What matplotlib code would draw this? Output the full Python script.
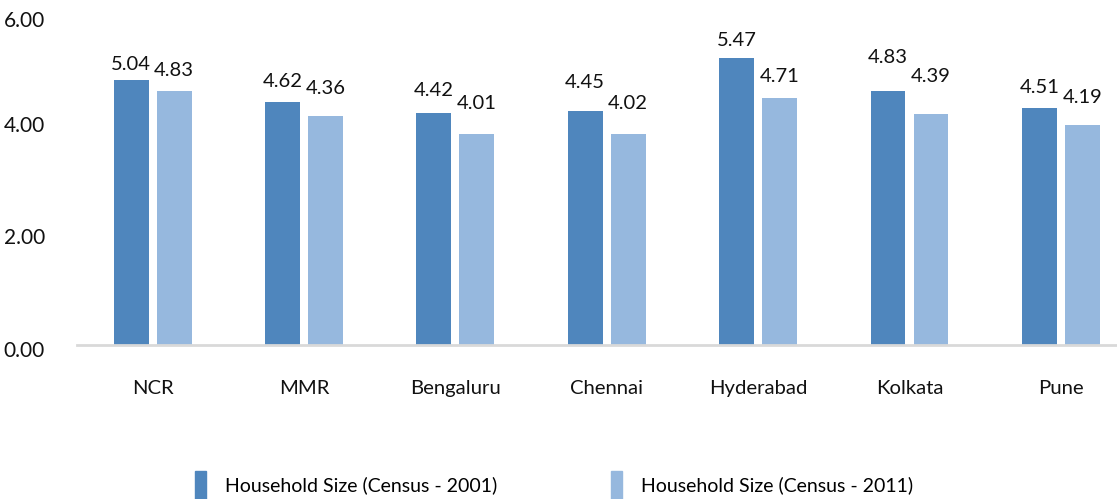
import numpy as np
import matplotlib.pyplot as plt
import matplotlib.transforms as mtransforms
from matplotlib.patches import Patch

cities = ['NCR', 'MMR', 'Bengaluru', 'Chennai', 'Hyderabad', 'Kolkata', 'Pune']
size_2001 = [5.04, 4.62, 4.42, 4.45, 5.47, 4.83, 4.51]
size_2011 = [4.83, 4.36, 4.01, 4.02, 4.71, 4.39, 4.19]
series_names = ['Household Size (Census - 2001)', 'Household Size (Census - 2011)']
y_ticks = [0, 2, 4, 6]

# label lift above bar top (points), as placed in the source chart
lift_2001 = [11, 15, 16, 21, 12, 24, 15]
lift_2011 = [15, 20, 22, 22, 15, 27, 20]
# the source's y labels sit a little off their gridline
tick_shift = [-3, 3, 8, 8]

dark = '#4F86BD'
light = '#96B8DE'

plt.rcParams['font.family'] = ['Lato', 'DejaVu Sans']

fig = plt.figure(figsize=(11.17, 4.99), dpi=100)
ax = fig.add_axes([77 / 1117, 154 / 499, 1059.5 / 1117, 331 / 499])

x = np.arange(len(cities))
off = 0.142
w = 0.23
b1 = ax.bar(x - off, size_2001, w, color=dark)
b2 = ax.bar(x + off, size_2011, w, color=light)

for bars, vals, lifts in [(b1, size_2001, lift_2001), (b2, size_2011, lift_2011)]:
    for bar, v, lf in zip(bars, vals, lifts):
        ax.annotate(f'{v:.2f}', (bar.get_x() + bar.get_width() / 2, v),
                    xytext=(0, lf), textcoords='offset points',
                    ha='center', va='center', fontsize=14.5, color='#111111')

ax.set_xlim(-0.5, 6.5)
ax.set_ylim(0, 6.3)
ax.set_yticks(y_ticks)
ax.set_yticklabels([f'{t:.2f}' for t in y_ticks])
ax.set_xticks(x)
ax.set_xticklabels(cities)
ax.tick_params(axis='y', length=0, pad=23, labelsize=15, labelcolor='#111111')
ax.tick_params(axis='x', length=0, pad=25, labelsize=14.6, labelcolor='#111111')

for lab, dy in zip(ax.get_yticklabels(), tick_shift):
    lab.set_transform(lab.get_transform() +
                      mtransforms.ScaledTranslation(0, dy / 72, fig.dpi_scale_trans))

for s in ['top', 'right', 'left']:
    ax.spines[s].set_visible(False)
ax.spines['bottom'].set_color('#D9D9D9')
ax.spines['bottom'].set_linewidth(2)

handles = [Patch(color=dark), Patch(color=light)]
fig.legend(handles, series_names, loc='center', bbox_to_anchor=(0.496, 0.028),
           ncol=2, frameon=False, fontsize=14, handlelength=0.55, handleheight=1.8,
           handletextpad=1.0, columnspacing=5.85)

fig.savefig('out.png', dpi=100)
